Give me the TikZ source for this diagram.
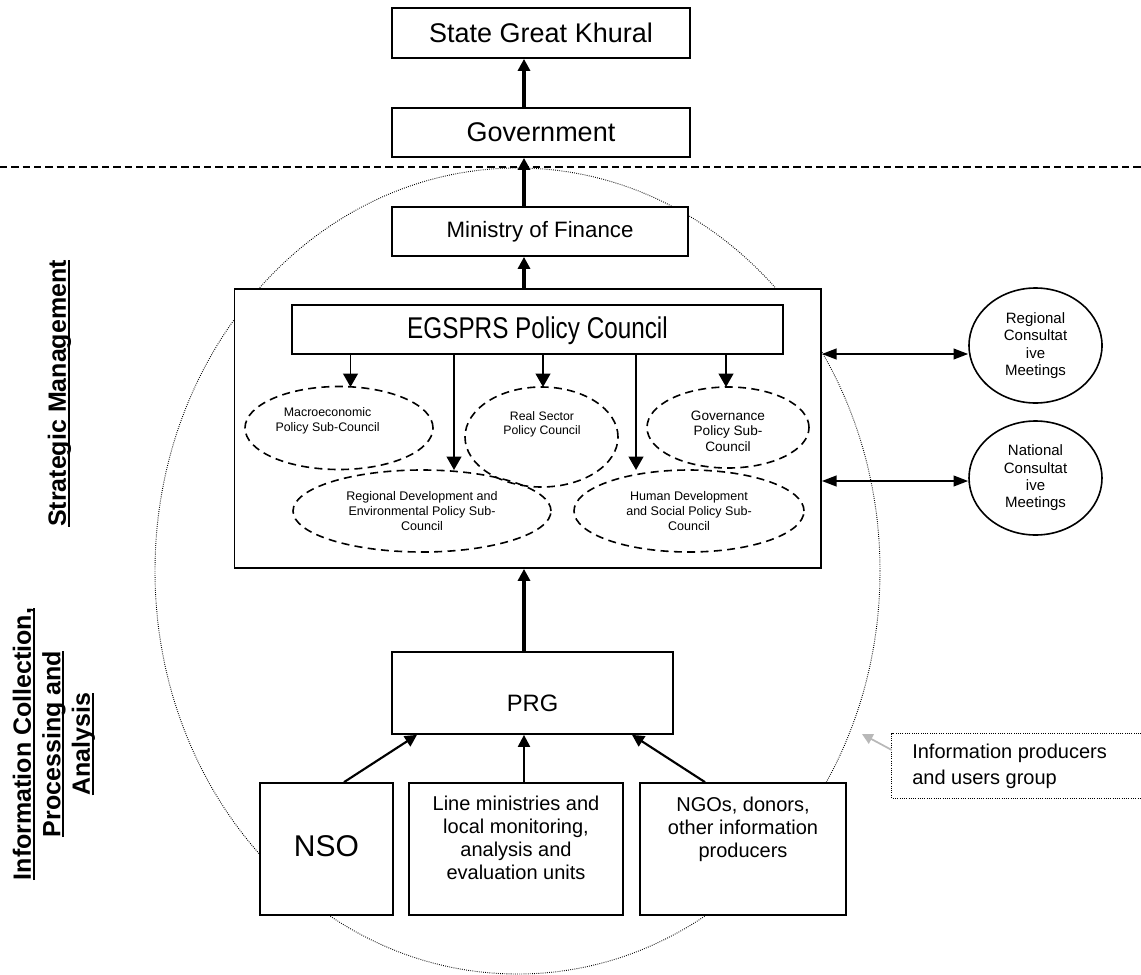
\documentclass[tikz,border=0pt]{standalone}
\usepackage{fontspec}
\setmainfont{Liberation Sans}
\newfontfamily\narrowfont[FakeStretch=0.81]{Liberation Sans}
\usetikzlibrary{arrows.meta,shapes.geometric,fit,calc}
\newcommand\myul[1]{\leavevmode\setbox0=\hbox{#1}\rlap{\rule[-2.8pt]{\wd0}{1.6pt}}\box0}
\newcommand\fsz[2]{\fontsize{#1}{#2}\selectfont}
\begin{document}
\begin{tikzpicture}[x=0.75pt,y=-0.75pt,
  box/.style={draw, line width=1.3pt, fill=white, inner sep=0pt},
  tarr/.style={line width=2.4pt, -{Triangle[length=9pt,width=9pt]}},
  sarr/.style={line width=1.4pt, -{Triangle[length=10pt,width=11pt]}},
  darr/.style={line width=1.5pt, {Triangle[length=11pt,width=8pt]}-{Triangle[length=11pt,width=8pt]}},
  barr/.style={line width=1.6pt, -{Triangle[length=9pt,width=9pt]}},
  garr/.style={line width=1.3pt, draw=black!28, -{Triangle[length=8pt,width=8pt]}},
  subc/.style={ellipse, draw, line width=1.2pt, dash pattern=on 6pt off 4pt, inner sep=0pt},
  cons/.style={ellipse, draw, line width=1.2pt, fill=white, inner sep=0pt, align=center, font=\fsz{11.25pt}{13pt}},
  txt/.style={align=center, inner sep=0pt},
  lbl/.style={rotate=90, align=center, inner sep=0pt, font=\bfseries\fsz{18.75pt}{22.1pt}}
]
\useasboundingbox (0,0) rectangle (1141,974);

% information producers and users group (dotted)
\node[ellipse, draw=black, line width=0.7pt, dash pattern=on 0.6pt off 1pt,
  minimum width=543.75pt, minimum height=604.5pt, inner sep=0pt] (grp) at (517.5,571) {};

% dashed separator
\coordinate (dl) at (0,167);
\coordinate (dr) at (1141,167);
\draw[line width=1.1pt, dash pattern=on 5.5pt off 3pt] (dl) -- (dr);

% top boxes
\node[box, fit={(392,8)(690,58)}] (sgk) {};
\node[txt, font=\fsz{20.25pt}{24pt}] (sgkt) at (sgk.center) {State Great Khural};
\node[box, fit={(392,108)(690,157)}] (gov) {};
\node[txt, font=\fsz{20.25pt}{24pt}] (govt) at (gov.center) {Government};
\node[box, fit={(392,207)(688,256)}] (mof) {};
\node[txt, font=\fsz{16.7pt}{20pt}] (moft) at (mof.center) {Ministry of Finance};

% policy council
\node[box, fit={(234.6,289)(821,568)}] (big) {};
\node[box, fit={(292,305)(783,354)}] (egs) {};
\node[txt, font=\narrowfont\fsz{22.5pt}{26pt}] (egst) at (537.5,331) {EGSPRS Policy Council};

\node[subc, minimum width=141pt, minimum height=62.25pt] (macro) at (339,428) {};
\node[subc, minimum width=114.75pt, minimum height=75pt] (real) at (541.5,437) {};
\node[subc, minimum width=121.5pt, minimum height=60.75pt] (govc) at (728,427.5) {};
\node[subc, minimum width=193.5pt, minimum height=61.5pt] (regdev) at (422,511) {};
\node[subc, minimum width=172.5pt, minimum height=61.5pt] (humdev) at (689,511) {};

\node[txt, font=\fsz{9.3pt}{11.25pt}] (macrot) at (327.6,421) {Macroeconomic\\Policy Sub-Council};
\node[txt, font=\fsz{9.2pt}{10.7pt}] (realt) at (542,424) {Real Sector\\Policy Council};
\node[txt, font=\fsz{10.2pt}{11.6pt}] (govct) at (728,431) {Governance\\Policy Sub-\\Council};
\node[txt, font=\fsz{9.4pt}{10.9pt}] (regdevt) at (422,511) {Regional Development and\\Environmental Policy Sub-\\Council};
\node[txt, font=\fsz{9.4pt}{10.9pt}] (humdevt) at (689,511) {Human Development\\and Social Policy Sub-\\Council};

% consultative meetings
\node[cons, minimum width=99.75pt, minimum height=86.25pt] (reg) at (1035.5,345.5) {Regional\\Consultat\\ive\\Meetings};
\node[cons, minimum width=99.75pt, minimum height=85.5pt] (nat) at (1035.5,478) {National\\Consultat\\ive\\Meetings};

% PRG and sources
\node[box, fit={(392,652)(673,734)}] (prg) {};
\node[txt, font=\fsz{17.8pt}{21pt}] (prgt) at (532.5,703) {PRG};
\node[box, fit={(260,783)(393,915)}] (nso) {};
\node[txt, font=\fsz{22.5pt}{26pt}] (nsot) at (326.5,846) {NSO};
\node[box, fit={(409,783)(623,915)}] (line) {};
\node[box, fit={(640,783)(846,915)}] (ngo) {};
\node[txt, anchor=north, font=\fsz{15pt}{17.25pt}] (linet) at (516,796) {Line ministries and\\local monitoring,\\analysis and\\evaluation units};
\node[txt, anchor=north, font=\fsz{15pt}{17.25pt}] (ngot) at (743,796.5) {NGOs, donors,\\other information\\producers};

% info box
\node[inner sep=0pt, fit={(892,734)(1141,798)}] (infobox) {};
\draw[line width=0.9pt, dash pattern=on 0.6pt off 1.1pt] (infobox.north east) -| (infobox.south west) -- (infobox.south east);
\node[txt, align=left, anchor=west, font=\fsz{15pt}{19.5pt}] (infot) at (912,766) {Information producers\\and users group};

% side labels
\node[lbl] (sm) at (59.5,393.5) {\myul{Strategic Management}};
\node[lbl] (icpa) at (54,744) {\myul{Information Collection,}\\\myul{Processing and}\\\myul{Analysis}};

% vertical spine arrows
\coordinate (tx) at (524,0);
\draw[tarr] (gov.north -| tx) -- (sgk.south -| tx);
\draw[tarr] (mof.north -| tx) -- (gov.south -| tx);
\draw[tarr] (big.north -| tx) -- (mof.south -| tx);
\draw[tarr] (prg.north -| tx) -- (big.south -| tx);

% council arrows
\coordinate (ta) at (350.5,387);
\coordinate (tb) at (454,470);
\coordinate (tc) at (543,387);
\coordinate (td) at (636,470);
\coordinate (te) at (726,387);
\draw[sarr] (egs.south -| ta) -- (ta);
\draw[sarr] (egs.south -| tb) -- (tb);
\draw[sarr] (egs.south -| tc) -- (tc);
\draw[sarr] (egs.south -| td) -- (td);
\draw[sarr] (egs.south -| te) -- (te);

% consultation arrows
\coordinate (ya) at (0,354);
\coordinate (yb) at (0,481);
\draw[darr] (big.east |- ya) -- (reg.west |- ya);
\draw[darr] (big.east |- yb) -- (nat.west |- yb);

% source arrows
\coordinate (s1) at (344,0);
\coordinate (e1) at (417,0);
\coordinate (s3) at (705,0);
\coordinate (e3) at (632,0);
\draw[barr] (nso.north -| s1) -- (prg.south -| e1);
\draw[barr] (line.north -| tx) -- (prg.south -| tx);
\draw[barr] (ngo.north -| s3) -- (prg.south -| e3);

% pointer to the group
\coordinate (gs) at (892,750);
\coordinate (gt) at (862,734);
\draw[garr] (infobox.west |- gs) -- (gt);
\end{tikzpicture}
\end{document}
